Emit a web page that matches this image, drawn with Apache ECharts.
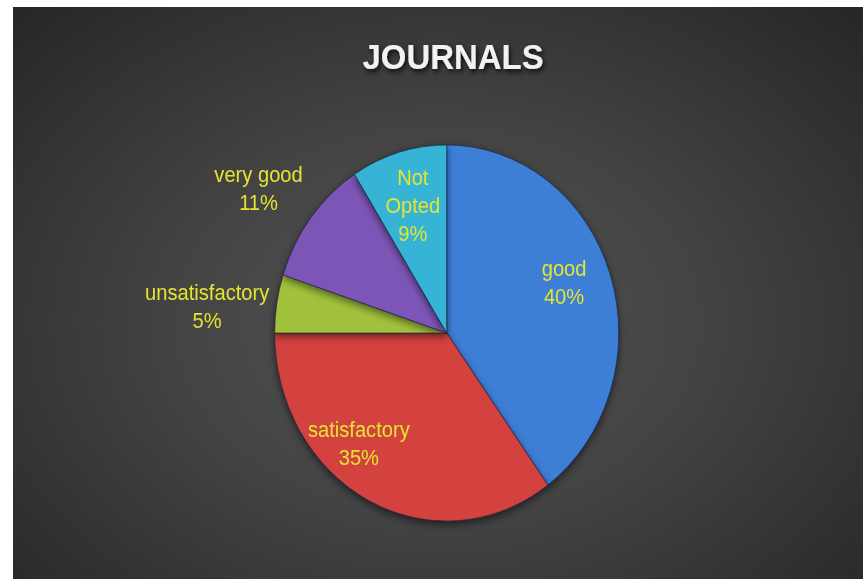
<!DOCTYPE html>
<html>
	<head>
		<meta charset="UTF-8">
		<title>JOURNALS</title>
		<script src="https://cdn.jsdelivr.net/npm/echarts@6/dist/echarts.min.js"></script>
		<style>
			html,body{
				margin:0px;
				width:864px;
				height:579px;
				background:#fff;
				overflow:hidden;
			}
			#panel{
				position:absolute;
				left:13px;
				top:7px;
				width:850px;
				height:572px;
				background:radial-gradient(ellipse at 50% 55%, #545454 0%, #434343 45%, #262626 100%);
				overflow:hidden;
			}
			/* excel draws the pie a bit squashed, so the chart is narrowed a little */
			#journalChart{
				position:absolute;
				left:0px;
				top:0px;
				width:929px;
				height:572px;
				transform:scaleX(0.915);
				transform-origin:0 0;
			}
		</style>
	</head>
	<body>
		<div id="panel">
			<div id="journalChart"></div>
		</div>
		<script>
			// data
			var categories = ['good', 'satisfactory', 'unsatisfactory', 'very good', 'Not\nOpted'];
			var values = [40, 35, 5, 11, 9];
			var colors = ['#3d7ed6', '#d4433f', '#a2c23e', '#7b55b6', '#35b4d6'];
			// where each label sits relative to the library's inside position
			var labelOffsets = [[36, -21], [-52, 24], [-166, -12], [-129, -85], [-10, -35]];

			var chart = echarts.init(document.getElementById('journalChart'), null, {renderer: 'svg'});

			var pieData = [];
			for (var i = 0; i < categories.length; i++) {
				pieData.push({
					name: categories[i],
					value: values[i],
					itemStyle: {color: colors[i]},
					label: {offset: labelOffsets[i]}
				});
			}

			var option = {
				backgroundColor: 'transparent',
				animation: false,
				title: {
					text: 'JOURNALS',
					left: 476,
					top: 26,
					textAlign: 'center',
					textStyle: {
						color: '#f2f2f2',
						fontFamily: 'Liberation Sans',
						fontWeight: 'bold',
						fontSize: 36,
						textShadowColor: 'rgba(0,0,0,0.75)',
						textShadowBlur: 5,
						textShadowOffsetX: 2,
						textShadowOffsetY: 3
					}
				},
				series: [
					{
						type: 'pie',
						center: [474, 326],
						radius: 188,
						startAngle: 90,
						clockwise: true,
						avoidLabelOverlap: false,
						itemStyle: {
							borderColor: 'rgba(20,30,60,0.6)',
							borderWidth: 1,
							shadowBlur: 8,
							shadowColor: 'rgba(0,0,0,0.55)',
							shadowOffsetY: 3
						},
						label: {
							show: true,
							position: 'inside',
							color: '#e4e431',
							fontFamily: 'Liberation Sans',
							fontSize: 22,
							lineHeight: 28,
							formatter: function (p) {
								return p.name + '\n' + p.percent + '%';
							}
						},
						labelLine: {show: false},
						emphasis: {disabled: true},
						data: pieData
					}
				]
			};
			chart.setOption(option, true);
		</script>
	</body>
</html>
